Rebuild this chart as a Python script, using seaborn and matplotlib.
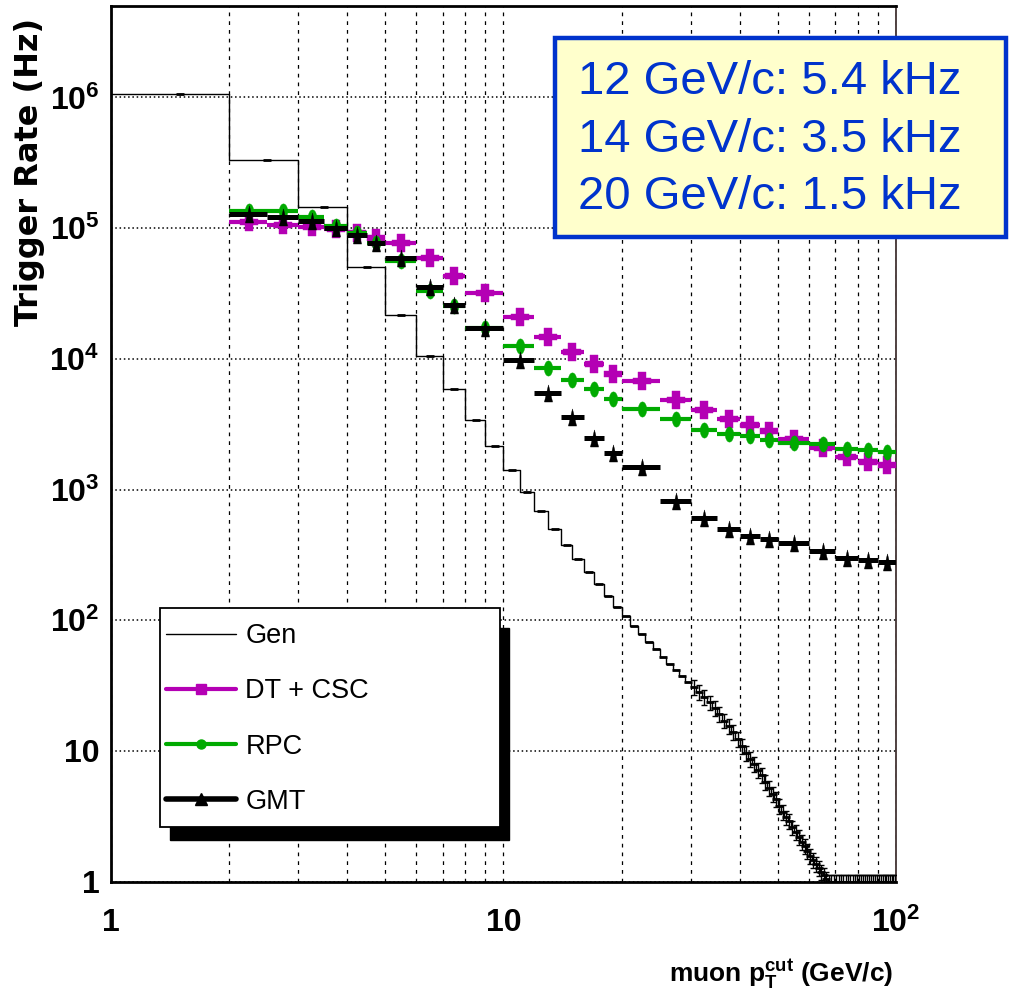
import numpy as np
import pandas as pd
import matplotlib
matplotlib.use("Agg")
import matplotlib.pyplot as plt
import seaborn as sns
from matplotlib.path import Path
from matplotlib.lines import Line2D
from matplotlib.patches import Rectangle
from matplotlib.ticker import FixedLocator, NullFormatter

# ---------------- data ----------------
gen_edges = list(range(1, 101))
gen_rate = [1.07e6, 3.3e5, 1.46e5, 5.07e4, 2.17e4, 1.06e4, 5850, 3400, 2150,
            1405, 964, 686, 502, 379, 294, 233, 190, 153, 126,
            107, 91, 78.5, 68.5, 60, 52.7, 46.6, 41.7, 37.5, 33.9,
            31, 28.1, 25.8, 23.5, 21.3, 19.2, 17.1, 15.6, 13.9, 12.4,
            10.9, 9.7, 8.7, 7.9, 7.2, 6.5, 5.8, 5.2, 4.7, 4.3,
            3.8, 3.4, 3.1, 2.9, 2.6, 2.4, 2.19, 2.02, 1.87, 1.72,
            1.58, 1.47, 1.37, 1.27, 1.19, 1.12, 1.05, 1.0, 1.0, 1.0,
            1.0, 1.0, 1.0, 1.0, 1.0, 1.0, 1.0, 1.0, 1.0, 1.0,
            1.0, 1.0, 1.0, 1.0, 1.0, 1.0, 1.0, 1.0, 1.0, 1.0,
            1.0, 1.0, 1.0, 1.0, 1.0, 1.0, 1.0, 1.0, 1.0, 1.0]

trig_edges = [2, 2.5, 3, 3.5, 4, 4.5, 5, 6, 7, 8, 10, 12, 14, 16, 18, 20,
              25, 30, 35, 40, 45, 50, 60, 70, 80, 90, 100]
dtcsc_rate = [1.12e5, 1.057e5, 1.016e5, 9.8e4, 9.14e4, 8.37e4, 7.66e4, 5.88e4,
              4.31e4, 3.21e4, 21000, 14600, 11350, 9100, 7660, 6770, 4850,
              4070, 3490, 3120, 2820, 2450, 2080, 1770, 1630, 1535]
rpc_rate = [1.36e5, 1.36e5, 1.21e5, 1.03e5, 9.14e4, 7.75e4, 5.64e4, 3.33e4,
            2.54e4, 1.71e4, 12550, 8570, 6860, 5850, 4910, 4140, 3470,
            2860, 2660, 2550, 2380, 2290, 2230, 2040, 1990, 1945]
gmt_rate = [1.28e5, 1.22e5, 1.13e5, 1.01e5, 8.87e4, 7.66e4, 5.89e4, 3.57e4,
            2.58e4, 1.71e4, 9810, 5460, 3570, 2500, 1900, 1495, 818,
            603, 500, 443, 417, 390, 337, 298, 290, 279]

series_names = ["Gen", "DT + CSC", "RPC", "GMT"]
box_lines = ["12 GeV/c: 5.4 kHz", "14 GeV/c: 3.5 kHz", "20 GeV/c: 1.5 kHz"]

# ---------------- style ----------------
sns.set_style("white")
SANS = ["Liberation Sans", "DejaVu Sans"]
plt.rcParams["font.family"] = SANS
plt.rcParams["text.color"] = "black"
plt.rcParams["axes.labelcolor"] = "black"
plt.rcParams["xtick.color"] = "black"
plt.rcParams["ytick.color"] = "black"
plt.rcParams["mathtext.fontset"] = "custom"
plt.rcParams["mathtext.rm"] = "Liberation Sans:bold"
plt.rcParams["mathtext.it"] = "Liberation Sans:bold"
plt.rcParams["mathtext.bf"] = "Liberation Sans:bold"

MAGENTA = "#B400B4"
GREEN = "#00AA00"
BLUE = "#0033CC"

fig = plt.figure(figsize=(10.13, 9.91), dpi=100)
ax = fig.add_axes([0.1093, 0.1103, 0.7752, 0.8836])
ax.set_xscale("log")
ax.set_yscale("log")

# ---------------- Gen histogram ----------------
ge = np.array(gen_edges, dtype=float)
gr = np.array(gen_rate, dtype=float)
gen_df = pd.DataFrame({"x": np.append(ge[:-1], ge[-1]), "y": np.append(gr, gr[-1])})
sns.lineplot(data=gen_df, x="x", y="y", drawstyle="steps-post", color="black",
             linewidth=1.0, estimator=None, sort=False, ax=ax, zorder=3)
gc = 0.5 * (ge[:-1] + ge[1:])
sns.scatterplot(x=gc, y=gr, marker="_", s=30, linewidth=2.0, color="black",
                ax=ax, zorder=3, legend=False)
# statistical error bars of the generated sample (visible only in the tail)
tail = gc > 30
ax.errorbar(gc[tail], gr[tail], yerr=0.13 * gr[tail], fmt="none", ecolor="black",
            elinewidth=1.0, capsize=2.2, capthick=1.0, zorder=3)

# ---------------- trigger series ----------------
te = np.array(trig_edges, dtype=float)
tc = 0.5 * (te[:-1] + te[1:])

t = np.linspace(0, 2 * np.pi, 40)
ellipse = Path(np.column_stack([0.55 * np.cos(t), np.sin(t)]))
plus_v = [(-0.24, -0.5), (0.24, -0.5), (0.24, -0.17), (0.5, -0.17), (0.5, 0.17),
          (0.24, 0.17), (0.24, 0.5), (-0.24, 0.5), (-0.24, 0.17), (-0.5, 0.17),
          (-0.5, -0.17), (-0.24, -0.17), (-0.24, -0.5)]
plus = Path(plus_v)
tri = Path([(-0.24, -0.5), (0.24, -0.5), (0.0, 0.5), (-0.24, -0.5)])

for rate, col, mk, size, lw, z in [
    (dtcsc_rate, MAGENTA, plus, 160, 3.0, 4),
    (rpc_rate, GREEN, ellipse, 120, 3.0, 5),
    (gmt_rate, "black", tri, 150, 3.6, 6),
]:
    ax.hlines(rate, te[:-1], te[1:], colors=col, linewidth=lw, zorder=z)
    sns.scatterplot(x=tc, y=rate, marker=mk, s=size, color=col, edgecolor=col,
                    linewidth=0.3, ax=ax, zorder=z + 0.5, legend=False)

# ---------------- axes ----------------
ax.set_xlim(1, 100)
ax.set_ylim(1, 5.0e6)
ax.set_xlabel("")
ax.set_ylabel("")

ax.xaxis.set_major_locator(FixedLocator([1, 10, 100]))
ax.xaxis.set_minor_locator(FixedLocator([2, 3, 4, 5, 6, 7, 8, 9, 20, 30, 40, 50, 60, 70, 80, 90]))
ax.xaxis.set_minor_formatter(NullFormatter())
ax.set_xticklabels(["1", "10", r"$10^{2}$"])

ymaj = [1, 10, 1e2, 1e3, 1e4, 1e5, 1e6]
ax.yaxis.set_major_locator(FixedLocator(ymaj))
ymin = [m * 10 ** d for d in range(0, 7) for m in range(2, 10)]
ax.yaxis.set_minor_locator(FixedLocator(ymin))
ax.yaxis.set_minor_formatter(NullFormatter())
ax.set_yticklabels(["1", "10", r"$10^{2}$", r"$10^{3}$", r"$10^{4}$", r"$10^{5}$", r"$10^{6}$"])

for lab in ax.get_xticklabels() + ax.get_yticklabels():
    lab.set_fontweight("bold")
    lab.set_fontsize(23)
    lab.set_family(SANS)
    lab.set_color("black")

ax.tick_params(axis="both", which="both", direction="in", top=False, right=False,
               colors="black")
ax.tick_params(axis="y", which="major", length=16, width=1.3, pad=8)
ax.tick_params(axis="y", which="minor", length=8.5, width=1.3)
ax.tick_params(axis="x", which="major", length=16, width=1.3, pad=19)
ax.tick_params(axis="x", which="minor", length=8.5, width=1.3)

ax.grid(False)
ax.grid(True, which="both", axis="x", color="black", linestyle=(0, (3, 4)), linewidth=0.9)
ax.grid(True, which="major", axis="y", color="black", linestyle=(0, (1, 1.8)), linewidth=1.1)
ax.set_axisbelow(True)

for side in ["left", "bottom", "top"]:
    ax.spines[side].set_linewidth(2.0)
    ax.spines[side].set_color("black")
ax.spines["right"].set_linewidth(1.2)
ax.spines["right"].set_color("#332222")

# ---------------- axis titles ----------------
fig.text(0.0296, 0.826, "Trigger Rate (Hz)", rotation=90, ha="center", va="center",
         fontsize=23, fontweight="bold", family=["DejaVu Sans"], color="black")
fig.text(0.8815, 0.017, r"muon p$_{T}^{cut}$ (GeV/c)", ha="right", va="center",
         fontsize=19, fontweight="bold", family=SANS, color="black")

# ---------------- legend ----------------
W, H = 1013.0, 991.0
shadow = Rectangle((170 / W, 1 - 840 / H), (509 - 170) / W, (840 - 628) / H,
                   transform=fig.transFigure, facecolor="black", edgecolor="black",
                   zorder=8)
frame = Rectangle((160 / W, 1 - 827 / H), (500 - 160) / W, (827 - 608) / H,
                  transform=fig.transFigure, facecolor="white", edgecolor="black",
                  linewidth=1.3, zorder=8.5)
fig.patches.extend([shadow, frame])

handles = [
    Line2D([], [], color="black", linewidth=1.0),
    Line2D([], [], color=MAGENTA, linewidth=3, marker="s", markersize=7),
    Line2D([], [], color=GREEN, linewidth=3, marker="o", markersize=6.5),
    Line2D([], [], color="black", linewidth=4, marker="^", markersize=8),
]
leg = fig.legend(handles, series_names, loc="upper left",
                 bbox_to_anchor=(166 / W, 1 - 623 / H), bbox_transform=fig.transFigure,
                 frameon=False, borderpad=0, borderaxespad=0, handlelength=2.6,
                 handletextpad=0.33, labelspacing=1.08,
                 prop={"family": SANS, "size": 19.5})
for txt in leg.get_texts():
    txt.set_color("black")
leg.set_zorder(9)

# ---------------- text box ----------------
tbox = Rectangle((555 / W, 1 - 237 / H), (1006 - 555) / W, (237 - 38) / H,
                 transform=fig.transFigure, facecolor="#FFFFCC", edgecolor=BLUE,
                 linewidth=3.2, zorder=8)
fig.patches.append(tbox)
for line, yc in zip(box_lines, [82, 140, 197]):
    fig.text(578 / W, 1 - yc / H, line, ha="left", va="center", fontsize=34,
             color=BLUE, family=SANS, zorder=9)

fig.savefig("out.png", dpi=100)
